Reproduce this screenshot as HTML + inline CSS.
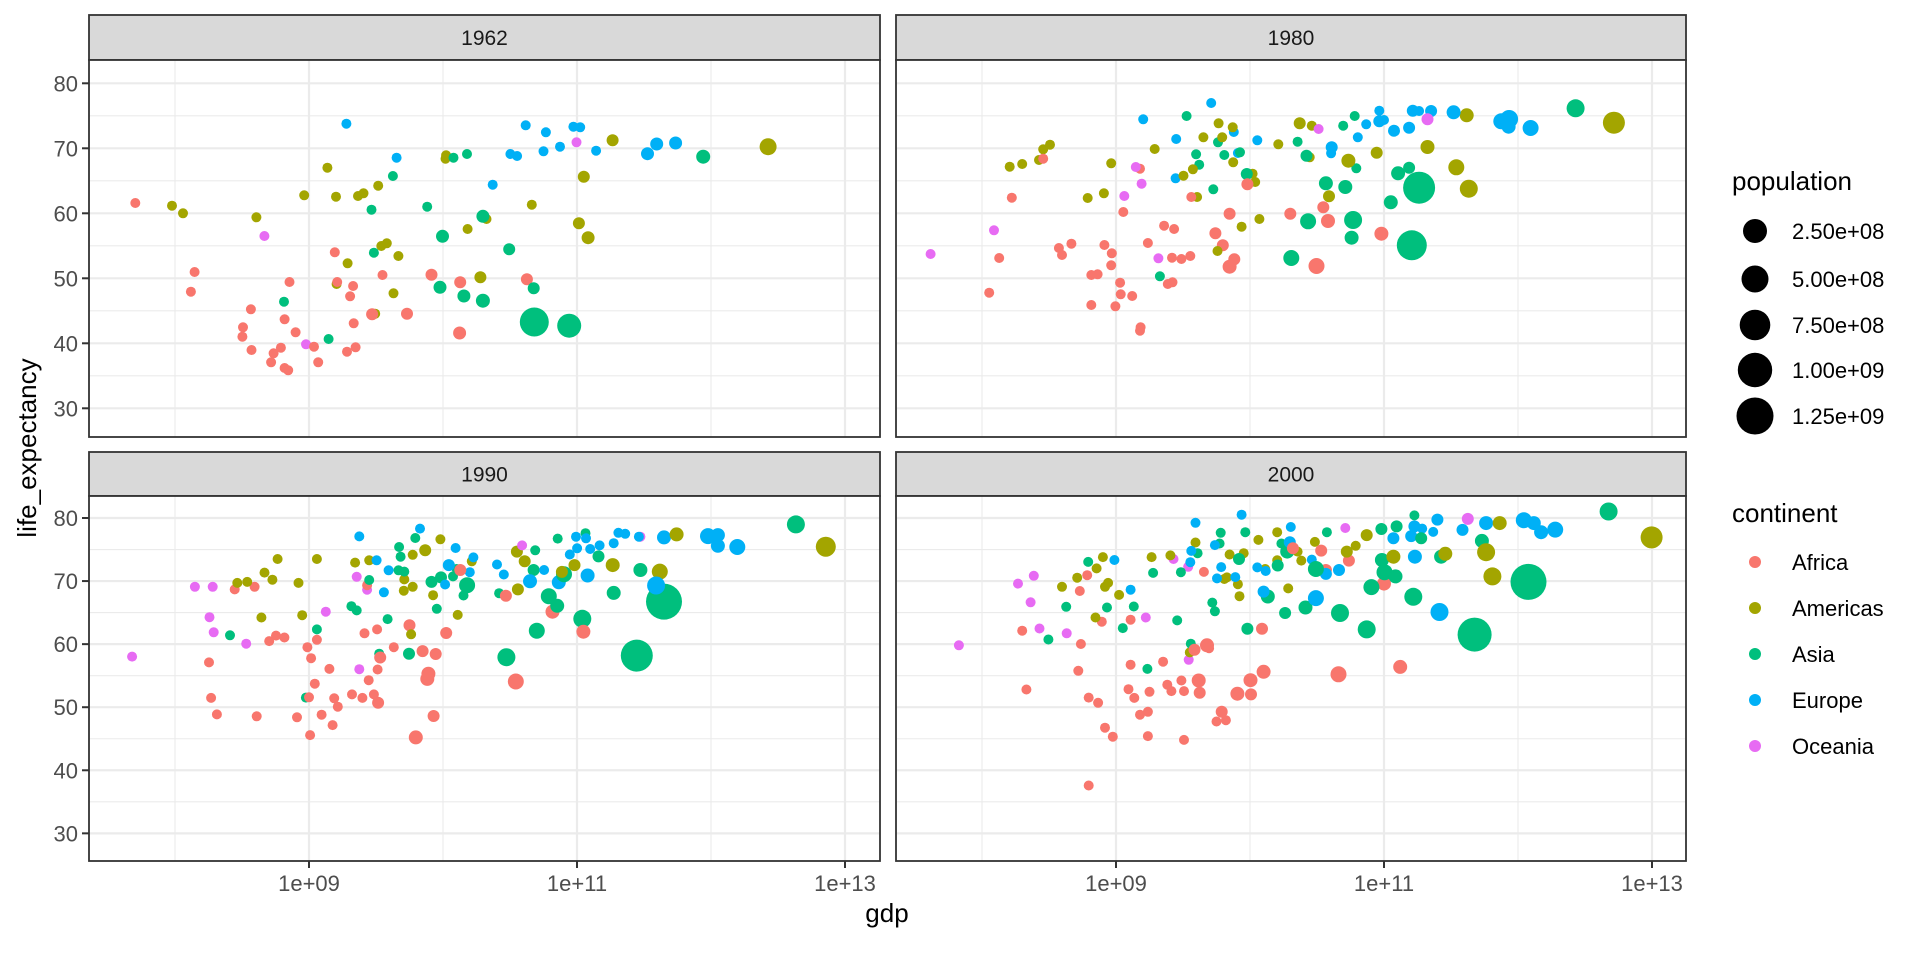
<!DOCTYPE html>
<html><head><meta charset="utf-8"><style>
html,body{margin:0;padding:0;background:#fff}
svg{display:block}
text{font-family:"Liberation Sans",Arial,sans-serif}
</style></head><body>
<svg id="s" xmlns="http://www.w3.org/2000/svg" width="1920" height="960" viewBox="0 0 1920 960">
<rect width="1920" height="960" fill="#fff"/>
<g id="panels"></g>
<text x="887" y="922" font-size="26" text-anchor="middle" fill="#000">gdp</text>
<text transform="translate(36,448) rotate(-90)" font-size="26" text-anchor="middle" fill="#000">life_expectancy</text>
<g id="legend">
<text x="1732" y="190" font-size="26" fill="#000">population</text>
<circle cx="1755" cy="231" r="12" fill="#000"/><text x="1792" y="239" font-size="22" fill="#000">2.50e+08</text>
<circle cx="1755" cy="279" r="13.5" fill="#000"/><text x="1792" y="287" font-size="22" fill="#000">5.00e+08</text>
<circle cx="1755" cy="325" r="15.3" fill="#000"/><text x="1792" y="333" font-size="22" fill="#000">7.50e+08</text>
<circle cx="1755" cy="370" r="17.2" fill="#000"/><text x="1792" y="378" font-size="22" fill="#000">1.00e+09</text>
<circle cx="1755" cy="416" r="18.5" fill="#000"/><text x="1792" y="424" font-size="22" fill="#000">1.25e+09</text>
<text x="1732" y="522" font-size="26" fill="#000">continent</text>
<circle cx="1755" cy="562" r="6" fill="#F8766D"/><text x="1792" y="570" font-size="22" fill="#000">Africa</text>
<circle cx="1755" cy="608" r="6" fill="#A3A500"/><text x="1792" y="616" font-size="22" fill="#000">Americas</text>
<circle cx="1755" cy="654" r="6" fill="#00BF7D"/><text x="1792" y="662" font-size="22" fill="#000">Asia</text>
<circle cx="1755" cy="700" r="6" fill="#00B0F6"/><text x="1792" y="708" font-size="22" fill="#000">Europe</text>
<circle cx="1755" cy="746" r="6" fill="#E76BF3"/><text x="1792" y="754" font-size="22" fill="#000">Oceania</text>
</g>
</svg>
<script>
var C={R:"#F8766D",O:"#A3A500",G:"#00BF7D",B:"#00B0F6",P:"#E76BF3"};
var NS="http://www.w3.org/2000/svg";
function el(t,a,p){var e=document.createElementNS(NS,t);for(var k in a)e.setAttribute(k,a[k]);p.appendChild(e);return e;}
var g=document.getElementById("panels");
var panels=[
{x0:89,x1:880,s0:15,y0:60,y1:437,y80:83.3,k:6.5,lab:"1962",ox:0,sx:1.634,oy:0,sy:3,yl:true,xl:false,d:
"R 221 609|O 281 617|O 299 640|O 419 652|P 432 708|R 318 816|R 312 875|R 410 928|R 397 982|R 396 1010|R 411 1050|R 443 1087|R 447 1060|R 465 958|R 483 997|R 459 1043|R 465 1104|R 471 1111|G 464 905|R 473 846|P 500 1033|R 513 1040|R 520 1087|G 537 1017|O 497 586|O 535 503|O 549 590|O 585 588|O 594 580|O 618 557|B 566 371|G 607 629|G 642 528|B 648 473|R 547 757|O 550 852|R 551 846|R 577 858|R 572 889|R 578 970|R 581 1042|R 567 1055|O 613 941|R 608 943 6|O 568 790|O 623 738|O 632 730|O 651 768|O 643 880|G 611 758|R 625 825|R 665 941 6|R 705 824 6|R 752 847 6|R 751 999 6.5|G 698 620|G 723 709 6.5|G 719 862 6.5|G 758 888 6.5|G 789 902 7|O 795 657|G 789 649 6.5|O 729 466|O 728 476|O 764 687|O 785 832 6|G 741 473|G 763 462|B 805 554|B 834 462|B 845 468|B 859 376|B 892 397|B 888 454|B 915 440|B 937 380|B 948 382|B 974 452|R 861 838 6|G 832 748 6|G 872 865 6|O 869 614|O 946 670 6|O 961 713 6.5|O 954 530 6|O 1001 421 6|P 942 427|G 873 966 14.5|G 930 977 12|B 1058 461 6.5|B 1073 432 6.5|B 1104 429 6.5|G 1149 470 7|O 1255 440 8.5"},
{x0:896,x1:1686,s0:15,y0:60,y1:437,y80:83.3,k:6.5,lab:"1980",ox:879.3,sx:1.91,oy:40,sy:3,yl:false,xl:false,d:
"P 98 642|R 229 654|R 210 758|R 253 473|P 219 571|O 249 380|O 273 372|O 305 360|O 313 328|O 326 314|R 313 356|O 398 474|O 429 460|O 443 370|P 468 468|R 498 386|P 490 381|P 501 431|R 466 516|R 343 624|R 349 645|R 367 611|R 430 615|R 444 640|R 443 676|R 405 705|R 417 703|R 460 728|R 461 763|R 483 768|R 405 795|R 451 799|R 499 862|R 498 872|P 533 655|R 513 609|R 544 557|R 563 567|R 559 653|R 577 657|R 594 648|G 536 709|R 551 732|R 560 727|B 504 238|B 567 297|B 566 415|B 634 189|B 677 276|B 685 339|B 722 301|G 587 228|G 605 343|G 611 374|G 647 307|G 659 345|G 689 337|G 638 448|O 526 327|O 581 407|O 599 388|O 619 292|O 648 250|O 655 292|O 675 262|O 676 367|O 713 401|O 718 426|O 607 471|R 596 471|R 669 521 6|R 642 580 6|R 656 616 6|R 678 658 6|R 669 680 7|G 702 402 6|R 703 433 6|O 646 633|O 692 560|O 726 537|R 785 521 6|R 848 502 6|R 857 543 7|R 835 678 8|R 959 581 7|G 787 654 8|G 819 544 8|G 853 430 7|G 890 441 7|G 905 540 9|G 902 593 7|G 977 487 7|G 991 400 7|G 1012 383 6|G 799 305|O 822 352|G 816 347 6|G 886 257|G 908 228|G 911 385|O 762 313|O 803 250 6|O 826 257|O 896 362 7|O 859 469 6|O 950 338 6|O 1047 321 7|O 1102 382 8|O 1126 446 9|O 1122 226 7|O 1403 248 11|P 839 267|B 864 322 6|B 863 340|B 914 292|B 930 253|B 955 212|B 955 244 6|B 964 240|B 983 272 6|B 1012 263 6|B 1019 212 6|B 1031 213|B 1054 213 6|P 1047 238 6|B 1097 217 7|B 1188 244 8|B 1203 237 9|B 1202 260 7|B 1244 264 8|G 1031 443 16|G 1017 616 15|G 1330 205 9"},
{x0:89,x1:880,s0:452,y0:496,y1:861,y80:518,k:6.307,lab:"1990",ox:79.7,sx:1.91,oy:477.9,sy:3.095,yl:true,xl:true,d:
"P 100 553|P 220 337|P 254 337|P 248 431|P 256 478|P 318 513|P 470 414|P 529 306|P 534 592|R 247 571|R 251 681|R 262 732|R 296 345|R 334 337|R 338 738|R 362 505|R 375 488|R 391 494|R 435 524|R 442 558|R 453 501|R 477 591|R 449 637|G 432 680|R 438 679|R 486 682|R 493 708|R 462 733|R 415 741|R 483 765|R 440 796|R 520 670|R 540 681|R 562 670|R 570 696 6|R 552 626|R 569 593|R 544 481|R 568 469|R 600 524|G 572 544|R 574 556 6|R 630 456 6|R 655 536 6|R 680 545 6|R 700 480 6|R 666 606 7|R 664 622 7|R 676 737 6|R 642 803 7|P 549 346|R 549 332|O 301 325|O 320 322|O 347 432|O 353 293|O 368 315|O 378 251|O 418 325|O 425 425|O 453 251|O 526 262|O 553 255|O 620 314|O 619 349|O 636 337|O 636 238|O 660 224 6|O 689 190|O 675 363|O 722 424|O 633 484|O 749 258|G 287 487|G 453 469|G 519 397|G 529 410|G 588 437|G 553 316|G 610 214|G 613 244|G 609 286|G 620 290|G 641 186|G 629 544 6|G 672 322 6|G 690 308 6|G 713 305|G 720 282|G 733 364|G 740 332 8|G 682 405|G 801 357|G 815 555 9|G 870 224|G 913 188|B 534 181|B 650 157|B 718 217|B 752 246|B 567 255|B 590 286|B 581 354|B 705 270 6|B 745 292|B 698 330|R 727 285 6|B 797 268|B 810 299|R 814 365 6|O 837 345 6|O 835 228 6|O 850 258 6|P 845 209|G 867 285 6|R 903 414 7|G 896 366 8|G 912 396 7|G 873 473 8|B 860 320 7|B 915 323 7|B 887 285|G 925 298 8|O 945 270 6|O 921 291 6|G 960 436 9|R 962 476 7|R 833 630 8|G 966 171|B 936 237|B 950 218|B 948 182|B 967 187|B 975 220|B 993 209|G 991 243 6|B 1020 202|B 1029 170|B 1042 173|B 970 302 7|G 1020 356 7|O 1018 270 7|G 1071 285 7|O 1108 290 8|P 1071 182|B 1068 182|G 1116 383 18|B 1101 333 9|G 1064 550 16|B 1116 184 7|O 1140 175 7|B 1200 180 8|B 1219 177 7|B 1219 210 7|B 1256 214 8|G 1368 144 9|O 1425 213 10"},
{x0:896,x1:1686,s0:452,y0:496,y1:861,y80:518,k:6.307,lab:"2000",ox:879.3,sx:1.91,oy:477.9,sy:3.095,yl:false,xl:true,d:
"P 152 518|P 265 327|P 295 303|P 289 385|P 306 466|P 358 481|P 509 432|P 562 251|P 590 275|P 591 563|R 273 473|R 281 655|R 383 350|R 397 301|R 385 514|R 380 597|R 400 680|R 418 696|R 425 445|R 431 773|R 446 801|R 400 952|R 480 439|R 480 578|R 476 654|R 487 681|R 516 662|R 498 733|R 513 724|R 513 799|R 542 569|R 550 640|R 558 660|R 577 627|R 582 660|R 582 811|O 593 540|G 595 513|R 602 532 6|R 610 627 7|R 612 665 6|R 626 518 7|R 630 527|R 620 291|R 654 724 6|R 644 754|R 662 750|R 684 668 7|R 710 670 6|R 709 626 7|R 734 600 7|R 731 467 6|O 349 337|O 378 309|O 415 280|O 427 245|O 431 337|O 437 325|O 458 362|O 413 432|O 520 245|O 556 240|O 604 200|O 659 313|O 664 308|O 669 237|O 685 329|O 688 366|O 696 233|O 724 192|O 737 282|O 760 168|O 760 255|O 781 342|O 799 228|O 806 256|O 832 198|G 399 260|G 357 399|G 323 500|G 435 401|G 465 465|G 486 398|G 523 294|G 576 292|G 608 233|G 652 170|G 650 203|G 699 168|G 636 386|G 641 413|G 569 441|G 512 591|G 703 467 6|G 687 251 6|G 742 367 7|G 761 271 6|G 775 418 6|G 768 203|G 779 228 7|G 814 401 7|B 449 254|B 480 346|B 604 139|B 692 114|B 596 226|B 594 261|B 641 208|B 653 276|B 645 311|B 680 307|B 722 277|B 738 288|B 734 352 6|B 786 152|B 784 199 6|R 790 218 6|B 826 253|R 844 225 6|R 853 285 6|B 853 297 6|G 834 282 8|G 855 168|P 890 155|R 897 256 6|B 878 285 6|B 834 372 8|O 893 228 6|O 910 210|O 931 177 6|R 877 608 8|G 880 418 9|G 931 469 9|R 964 327 7|G 940 338 8|G 960 254 7|G 965 292 8|G 986 305 7|G 959 158 6|G 988 150 6|G 1022 116|R 995 585 7|B 982 187 6|B 1016 180 6|B 1023 244 7|B 1022 150 6|B 1037 157|B 1058 167|B 1066 129 6|G 1035 187 6|O 982 244 7|G 1020 368 9|G 1073 244 7|O 1081 235 7|B 1114 161 6|P 1124 127 6|B 1159 140 7|O 1185 140 7|G 1151 195 7|O 1159 230 9|O 1171 305 9|B 1070 415 9|G 1240 322 18|G 1137 485 17|B 1231 131 8|B 1250 140 7|B 1264 168 7|B 1291 160 8|G 1393 104 9|O 1475 184 11"}
];
panels.forEach(function(p,i){
  var w=p.x1-p.x0;
  function Y(v){return p.y80+(80-v)*p.k;}
  function X(d){return p.x0+220+(d-9)*134;}
  el("rect",{x:p.x0,y:p.s0,width:w,height:p.y0-p.s0,fill:"#D9D9D9",stroke:"#333333","stroke-width":1.8},g);
  var t=el("text",{x:p.x0+w/2,y:(p.s0+p.y0)/2+7.5,"font-size":21,"text-anchor":"middle",fill:"#1A1A1A"},g);t.textContent=p.lab;
  el("rect",{x:p.x0,y:p.y0,width:w,height:p.y1-p.y0,fill:"#fff"},g);
  var cid="c"+i;
  var cp=el("clipPath",{id:cid},g);el("rect",{x:p.x0,y:p.y0,width:w,height:p.y1-p.y0},cp);
  var gg=el("g",{"clip-path":"url(#"+cid+")"},g);
  [35,45,55,65,75].forEach(function(v){el("line",{x1:p.x0,x2:p.x1,y1:Y(v),y2:Y(v),stroke:"#EBEBEB","stroke-width":1.1},gg);});
  [8,10,12].forEach(function(d){el("line",{x1:X(d),x2:X(d),y1:p.y0,y2:p.y1,stroke:"#EBEBEB","stroke-width":1.1},gg);});
  [30,40,50,60,70,80].forEach(function(v){el("line",{x1:p.x0,x2:p.x1,y1:Y(v),y2:Y(v),stroke:"#EBEBEB","stroke-width":2.2},gg);});
  [9,11,13].forEach(function(d){el("line",{x1:X(d),x2:X(d),y1:p.y0,y2:p.y1,stroke:"#EBEBEB","stroke-width":2.2},gg);});
  p.d.split("|").forEach(function(s){
    var a=s.trim().split(" ");
    var x=p.ox+(+a[1])/p.sx, y=p.oy+(+a[2])/p.sy, r=a[3]?+a[3]:5;
    el("circle",{cx:x.toFixed(1),cy:y.toFixed(1),r:r,fill:C[a[0]]},gg);
  });
  el("rect",{x:p.x0,y:p.y0,width:w,height:p.y1-p.y0,fill:"none",stroke:"#333333","stroke-width":1.8},g);
  if(p.yl){[30,40,50,60,70,80].forEach(function(v){
    el("line",{x1:p.x0-7,x2:p.x0,y1:Y(v),y2:Y(v),stroke:"#333333","stroke-width":2},g);
    var tt=el("text",{x:p.x0-11,y:Y(v)+8,"font-size":22,"text-anchor":"end",fill:"#4D4D4D"},g);tt.textContent=v;});}
  if(p.xl){[9,11,13].forEach(function(d){
    el("line",{x1:X(d),x2:X(d),y1:p.y1,y2:p.y1+7,stroke:"#333333","stroke-width":2},g);
    var tt=el("text",{x:X(d),y:p.y1+30,"font-size":22,"text-anchor":"middle",fill:"#4D4D4D"},g);tt.textContent="1e+"+(d<10?"0":"")+d;});}
});
</script>
</body></html>
